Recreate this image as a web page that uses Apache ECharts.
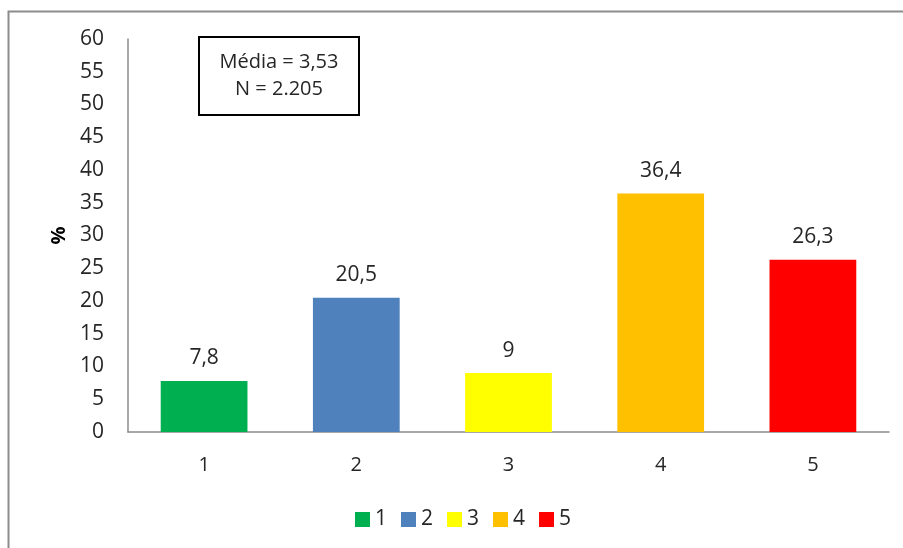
<!DOCTYPE html>
<html>
<head>
<meta charset="utf-8">
<script src="https://cdn.jsdelivr.net/npm/echarts@6/dist/echarts.min.js"></script>
<style>
  html, body { margin: 0; padding: 0; background: #fff; }
  #chart { width: 903px; height: 548px; }
</style>
</head>
<body>
<div id="chart"></div>
<script>
// Response categories and their percentages
const categories = ['1', '2', '3', '4', '5'];
const percents = [7.8, 20.5, 9, 36.4, 26.3];
const colors = ['#00B050', '#4F81BD', '#FFFF00', '#FFC000', '#FF0000'];
const yTicks = { min: 0, max: 60, interval: 5 };
const summaryLines = ['Média = 3,53', 'N = 2.205'];

const FONT = '"Open Sans", "Liberation Sans", sans-serif';
const fmt = v => String(v).replace('.', ',');

// One series per category so every bar gets its own legend entry
const series = categories.map((c, i) => ({
  name: c,
  type: 'bar',
  stack: 'all',
  barWidth: '57%',
  itemStyle: { color: colors[i] },
  label: {
    show: true,
    position: 'top',
    distance: 12,
    formatter: p => fmt(p.value),
    color: '#262626',
    fontSize: 21,
    fontFamily: FONT
  },
  data: categories.map((_, j) => (j === i ? percents[i] : null))
}));

const chart = echarts.init(document.getElementById('chart'));
chart.setOption({
  animation: false,
  backgroundColor: '#fff',
  grid: { left: 128, right: 14, top: 39, bottom: 116 },
  xAxis: {
    type: 'category',
    data: categories,
    axisLine: { lineStyle: { color: '#8c8c8c', width: 1.5 } },
    axisTick: { show: false },
    axisLabel: { color: '#262626', fontSize: 20, fontFamily: FONT, margin: 23 }
  },
  yAxis: {
    type: 'value',
    min: yTicks.min,
    max: yTicks.max,
    interval: yTicks.interval,
    name: '%',
    nameLocation: 'middle',
    nameRotate: 90,
    nameGap: 59,
    nameTextStyle: { color: '#000', fontSize: 20, fontWeight: 'bold', fontFamily: FONT },
    axisLine: { show: true, lineStyle: { color: '#8c8c8c', width: 1.5 } },
    axisTick: { show: false },
    splitLine: { show: false },
    axisLabel: { color: '#262626', fontSize: 21, fontFamily: FONT, margin: 24 }
  },
  legend: {
    bottom: 13,
    left: 350,
    icon: 'rect',
    itemWidth: 15,
    itemHeight: 15,
    itemGap: 14,
    textStyle: { color: '#262626', fontSize: 21, fontFamily: FONT },
    data: categories
  },
  graphic: [
    // outer frame
    {
      type: 'rect',
      shape: { x: 8.5, y: 11.5, width: 920, height: 560 },
      style: { fill: 'none', stroke: '#8c8c8c', lineWidth: 2 },
      silent: true
    },
    // summary box
    {
      type: 'rect',
      shape: { x: 199, y: 37, width: 160, height: 78 },
      style: { fill: '#fff', stroke: '#000', lineWidth: 2 }
    },
    {
      type: 'text',
      x: 279, y: 62,
      style: { text: summaryLines[0], fill: '#262626', fontSize: 20, fontFamily: FONT, align: 'center', verticalAlign: 'middle' }
    },
    {
      type: 'text',
      x: 279, y: 89,
      style: { text: summaryLines[1], fill: '#262626', fontSize: 20, fontFamily: FONT, align: 'center', verticalAlign: 'middle' }
    }
  ],
  series: series
});
</script>
</body>
</html>
